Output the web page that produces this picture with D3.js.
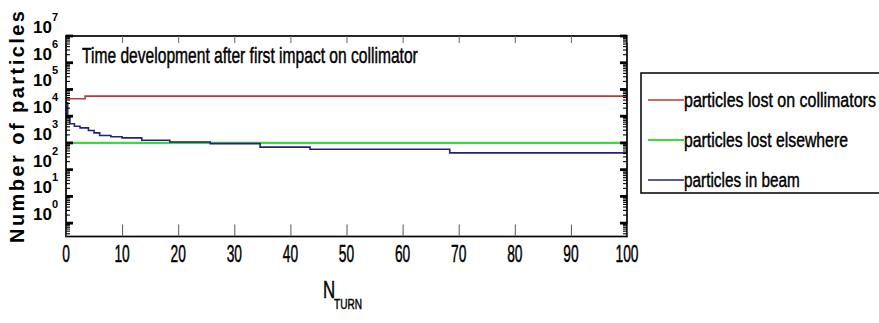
<!DOCTYPE html>
<html>
<head>
<meta charset="utf-8">
<script src="https://cdn.jsdelivr.net/npm/d3@7/dist/d3.min.js"></script>
<style>
  body { margin: 0; background: #fff; }
  text { font-family: "Liberation Sans", Arial, sans-serif; fill: #000; }
  text.cond { stroke: #000; stroke-width: 0.45px; }
</style>
</head>
<body>
<svg id="chart" width="879" height="323"></svg>
<script>
// Turn axis ticks and decade exponents of the particle-count axis
const turnTicks = [0, 10, 20, 30, 40, 50, 60, 70, 80, 90, 100];
const decadeExponents = [7, 6, 5, 4, 3, 2, 1, 0];

// Particles lost on collimators (step after each turn value)
const collimatorTurns = [0, 3.4, 100];
const collimatorLost = [44700, 56200, 56200];

// Particles lost elsewhere in the ring
const elsewhereTurns = [0, 100];
const elsewhereLost = [1000, 1000];

// Particles remaining in the beam
const beamTurns = [0, 0.3, 0.7, 1.5, 2.5, 4, 5, 6, 8, 10, 13.5, 18.5, 25.7, 34.6, 43.5, 68.4, 100];
const beamParticles = [32000, 10000, 5200, 4200, 3660, 2900, 2380, 1900, 1700, 1550, 1260, 1077, 946, 698, 578, 424, 424];

const seriesNames = ["particles lost on collimators", "particles lost elsewhere", "particles in beam"];
const seriesColors = ["#b83a3a", "#3fd83f", "#22227a"];

const plotTitle = "Time development after first impact on collimator";
const yTitle = "Number of particles";

const svg = d3.select("#chart");
const frame = { left: 66, right: 627, top: 36, bottom: 236.5 };

const x = d3.scaleLinear().domain([0, 100]).range([frame.left, frame.right]);
const y = d3.scaleLog().domain([Math.pow(10, -0.5), 1e7]).range([frame.bottom, frame.top]);

// squeezed (condensed) text helper: fixed horizontal factor
function label(parent, px, py, str, size, sx, anchor) {
  return parent.append("text")
    .attr("class", "cond")
    .attr("transform", `translate(${px},${py}) scale(${sx},1)`)
    .attr("text-anchor", anchor || "start")
    .attr("font-size", size)
    .text(str);
}
// condensed text squeezed to a given overall width
function fitted(parent, px, py, str, size, width) {
  const t = parent.append("text")
    .attr("class", "cond")
    .attr("font-size", size)
    .text(str);
  const natural = t.node().getComputedTextLength();
  t.attr("transform", `translate(${px},${py}) scale(${width / natural},1)`);
  return t;
}

// --- series lines ---
const series = [
  { t: collimatorTurns, v: collimatorLost, color: seriesColors[0], w: 1.6 },
  { t: elsewhereTurns, v: elsewhereLost, color: seriesColors[1], w: 2.3 },
  { t: beamTurns, v: beamParticles, color: seriesColors[2], w: 1.6 }
];
const line = d3.line()
  .x(d => x(d[0]))
  .y(d => y(d[1]))
  .curve(d3.curveStepAfter);

const plot = svg.append("g");
series.forEach(s => {
  plot.append("path")
    .datum(d3.zip(s.t, s.v))
    .attr("d", line)
    .attr("fill", "none")
    .attr("stroke", s.color)
    .attr("stroke-width", s.w);
});

// --- frame ---
svg.append("rect")
  .attr("x", frame.left).attr("y", frame.top)
  .attr("width", frame.right - frame.left)
  .attr("height", frame.bottom - frame.top)
  .attr("fill", "none").attr("stroke", "#000").attr("stroke-width", 1.7);

// --- turn axis ticks (bottom and top, inside) ---
const xb = svg.append("g").attr("transform", `translate(0,${frame.bottom})`)
  .call(d3.axisBottom(x).tickValues(turnTicks).tickSizeInner(-12).tickSizeOuter(0).tickFormat(""));
xb.select(".domain").remove();
xb.selectAll(".tick line").attr("stroke", "#555").attr("stroke-width", 1);

const xt = svg.append("g").attr("transform", `translate(0,${frame.top})`)
  .call(d3.axisTop(x).tickValues(turnTicks).tickSizeInner(-7).tickSizeOuter(0).tickFormat(""));
xt.select(".domain").remove();
xt.selectAll(".tick line").attr("stroke", "#666").attr("stroke-width", 1);

turnTicks.forEach(t => {
  label(svg, x(t), 262, String(t), 23, 0.6, "middle");
});

// --- particle axis ticks (left and right, inside) ---
const majorVals = decadeExponents.map(e => Math.pow(10, e));
const minorVals = [];
for (let d = -1; d <= 6; d++) {
  for (let m = 2; m <= 9; m++) {
    const v = m * Math.pow(10, d);
    if (v >= y.domain()[0] && v <= y.domain()[1]) minorVals.push(v);
  }
}
function yTicks(side) {
  const sign = side === "left" ? 1 : -1;
  const x0 = side === "left" ? frame.left : frame.right;
  const g = svg.append("g");
  g.selectAll(".mj").data(majorVals).join("line")
    .attr("x1", x0).attr("x2", x0 + sign * 7)
    .attr("y1", d => y(d)).attr("y2", d => y(d))
    .attr("stroke", "#000").attr("stroke-width", 2.8);
  g.selectAll(".mn").data(minorVals).join("line")
    .attr("x1", x0).attr("x2", x0 + sign * 4)
    .attr("y1", d => y(d)).attr("y2", d => y(d))
    .attr("stroke", "#000").attr("stroke-width", 1.1);
}
yTicks("left");
yTicks("right");

// decade labels: "10" with raised exponent
decadeExponents.forEach(e => {
  const ty = y(Math.pow(10, e));
  svg.append("text")
    .attr("x", 52).attr("y", ty - 3)
    .attr("text-anchor", "end")
    .attr("font-size", 17).attr("font-weight", "bold")
    .text("10");
  svg.append("text")
    .attr("x", 52).attr("y", ty - 15)
    .attr("font-size", 11).attr("font-weight", "bold")
    .text(String(e));
});

// --- axis titles ---
svg.append("text")
  .attr("transform", `translate(24,127) rotate(-90)`)
  .attr("text-anchor", "middle")
  .attr("font-size", 20).attr("font-weight", "bold")
  .attr("textLength", 232).attr("lengthAdjust", "spacing")
  .text(yTitle);

label(svg, 323, 298, "N", 24, 0.7, "start");
label(svg, 334, 309, "TURN", 14, 0.72, "start").attr("stroke-width", 0.25);

// --- title inside the frame ---
fitted(svg, 82, 63, plotTitle, 22, 336);

// --- legend (box runs past the right edge) ---
const legend = svg.append("g");
legend.append("rect")
  .attr("x", 641).attr("y", 73).attr("width", 245).attr("height", 120)
  .attr("fill", "#fff").attr("stroke", "#000").attr("stroke-width", 1.5);
const legendWidths = [192, 164, 116];
seriesNames.forEach((name, i) => {
  const ly = 100 + i * 40;
  legend.append("line")
    .attr("x1", 648).attr("x2", 684)
    .attr("y1", ly).attr("y2", ly)
    .attr("stroke", seriesColors[i]).attr("stroke-width", i === 1 ? 2.2 : 1.6);
  fitted(legend, 684, ly + 7, name, 21, legendWidths[i]);
});
</script>
</body>
</html>
